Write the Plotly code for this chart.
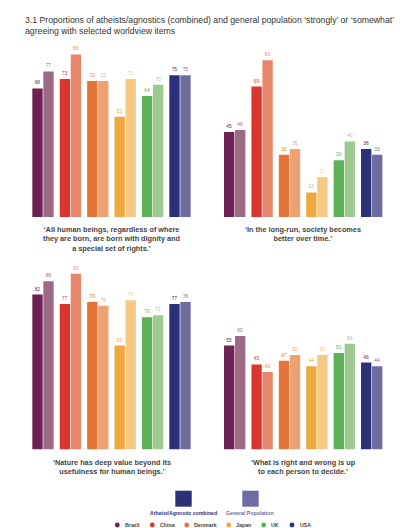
import plotly.graph_objects as go

countries = ["Brazil", "China", "Denmark", "Japan", "UK", "USA"]
dark_colors = ["#6E2253", "#D8362E", "#E4743A", "#EDA93F", "#5DB157", "#2B3078"]
light_colors = ["#9B6A84", "#E8866B", "#EDA271", "#F5C983", "#9DCB8F", "#6F6CA2"]

captions = [
    "‘All human beings, regardless of where<br>they are born, are born with dignity and<br>a special set of rights.’",
    "‘In the long-run, society becomes<br>better over time.’",
    "‘Nature has deep value beyond its<br>usefulness for human beings.’",
    "‘What is right and wrong is up<br>to each person to decide.’",
]

atheist_vals = [
    [68, 73, 72, 53, 64, 75],
    [45, 69, 33, 13, 30, 36],
    [82, 77, 78, 55, 70, 77],
    [55, 45, 47, 44, 51, 46],
]
general_vals = [
    [77, 86, 72, 73, 70, 75],
    [46, 83, 36, 21, 40, 33],
    [89, 93, 76, 79, 71, 78],
    [60, 41, 50, 50, 56, 44],
]

W, H = 420, 528
FONT = "Liberation Sans, Arial, sans-serif"


def px_x(v):
    return v / W


def px_y(v):
    return 1 - v / H


# panel placement (pixels): left/right x ranges, top/bottom baselines
x_doms = [(21.3, 185.7), (213, 377.4)]
y_doms = [(209, 20), (441.5, 252.5)]
cap_y = [214.5, 447.5]

fig = go.Figure()

for i in range(4):
    r, c = divmod(i, 2)
    n = "" if i == 0 else str(i + 1)
    for vals, cols in ((atheist_vals[i], dark_colors), (general_vals[i], light_colors)):
        fig.add_trace(go.Bar(
            x=countries, y=vals,
            marker=dict(color=cols, line=dict(width=0)),
            text=[str(v) for v in vals],
            textposition="outside",
            textfont=dict(size=4.8, color=cols, family=FONT),
            cliponaxis=False,
            xaxis="x" + n, yaxis="y" + n,
            showlegend=False, hoverinfo="skip",
        ))
    xd = x_doms[c]
    yd = y_doms[r]
    fig.update_layout(**{
        "xaxis" + n: dict(domain=[px_x(xd[0]), px_x(xd[1])], anchor="y" + n,
                          showticklabels=False, showgrid=False, zeroline=False,
                          showline=False, ticks=""),
        "yaxis" + n: dict(domain=[px_y(yd[0]), px_y(yd[1])], anchor="x" + n,
                          range=[0, 100], visible=False),
    })
    fig.add_annotation(
        text=captions[i], xref="paper", yref="paper",
        x=px_x((xd[0] + xd[1]) / 2), y=px_y(cap_y[r]),
        xanchor="center", yanchor="top", showarrow=False, align="center",
        font=dict(size=7.3, color="#444444", family=FONT, weight="bold"),
    )

# title
fig.add_annotation(
    text="3.1 Proportions of atheists/agnostics (combined) and general population ‘strongly’ or ‘somewhat’<br>agreeing with selected worldview items",
    xref="paper", yref="paper", x=px_x(14.5), y=px_y(5.5),
    xanchor="left", yanchor="top", showarrow=False, align="left",
    font=dict(size=8.7, color="#333333", family=FONT),
)

# legend: squares for the two groups
for x0, col, label in ((167.3, dark_colors[5], "Atheist/Agnostic combined"),
                       (234.3, light_colors[5], "General Population")):
    fig.add_shape(type="rect", xref="paper", yref="paper",
                  x0=px_x(x0), x1=px_x(x0 + 16.4), y0=px_y(498.7), y1=px_y(482.7),
                  fillcolor=col, line=dict(width=0))
    fig.add_annotation(text=label, xref="paper", yref="paper",
                       x=px_x(x0 + 8.2), y=px_y(504.8), xanchor="center", yanchor="middle",
                       showarrow=False, font=dict(size=5.2, color=col, family=FONT, weight="bold"))

# legend: country dots
dot_x = [109.3, 144.3, 178.7, 220.7, 255.7, 284]
for cx, name, col in zip(dot_x, countries, dark_colors):
    fig.add_shape(type="circle", xref="paper", yref="paper",
                  x0=px_x(cx - 2.4), x1=px_x(cx + 2.4), y0=px_y(519.4), y1=px_y(514.6),
                  fillcolor=col, line=dict(width=0))
    fig.add_annotation(
        text=name, xref="paper", yref="paper", x=px_x(cx + 5.5), y=px_y(517),
        xanchor="left", yanchor="middle", showarrow=False,
        font=dict(size=5.3, color="#444444", family=FONT, weight="bold"),
    )

fig.update_layout(
    width=W, height=H,
    margin=dict(l=0, r=0, t=0, b=0),
    barmode="group", bargap=0.197, bargroupgap=0.06,
    plot_bgcolor="white", paper_bgcolor="white",
    font=dict(family=FONT),
)

fig.write_html("out.html")
